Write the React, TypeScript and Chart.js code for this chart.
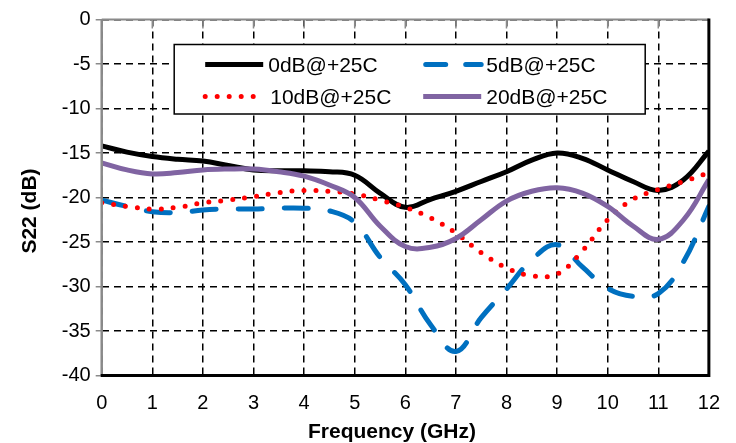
import React, { useEffect, useRef } from "react";
import { Chart, registerables } from "chart.js";

Chart.register(...registerables);

// ---- data ----
const freqGHz = [0, 0.5, 1, 1.5, 2, 2.5, 3, 3.5, 4, 4.5, 5, 5.5, 6, 6.5, 7, 7.5, 8, 8.5, 9, 9.5, 10, 10.5, 11, 11.5, 12];
const s22_0dB = [-14.2, -14.9, -15.4, -15.7, -15.9, -16.4, -16.9, -17.0, -17.0, -17.1, -17.5, -19.5, -21.1, -20.2, -19.3, -18.2, -17.1, -15.8, -15.0, -15.6, -16.9, -18.2, -19.2, -18.0, -14.8];
const s22_5dB = [-20.3, -21.0, -21.6, -21.7, -21.4, -21.3, -21.3, -21.2, -21.2, -21.5, -22.8, -26.7, -29.8, -34.3, -37.3, -33.5, -30.3, -27.0, -25.3, -27.8, -30.2, -31.1, -30.8, -27.2, -21.0];
const s22_10dB = [-20.6, -21.0, -21.3, -21.1, -20.6, -20.3, -19.9, -19.45, -19.2, -19.3, -19.6, -20.3, -21.1, -22.3, -24.0, -26.2, -27.9, -28.8, -28.6, -26.0, -22.5, -20.2, -19.1, -18.2, -17.2];
const s22_20dB = [-16.1, -16.9, -17.35, -17.2, -16.9, -16.8, -16.8, -17.1, -17.6, -18.6, -20.0, -23.2, -25.5, -25.6, -24.6, -22.5, -20.4, -19.3, -18.9, -19.5, -21.0, -23.2, -24.7, -22.5, -18.0];

const seriesLabels = ["0dB@+25C", "5dB@+25C", "10dB@+25C", "20dB@+25C"];
const xTitle = "Frequency (GHz)";
const yTitle = "S22 (dB)";
const xMin = 0, xMax = 12, xStep = 1;
const yMin = -40, yMax = 0, yStep = 5;

const FONT = "'Liberation Sans', Arial, sans-serif";

const styles = [
  { color: "#000000", dash: [] as number[], cap: "butt" as CanvasLineCap },
  { color: "#0070C0", dash: [24, 22], cap: "round" as CanvasLineCap },
  { color: "#FF0000", dash: [0, 12], cap: "round" as CanvasLineCap },
  { color: "#8064A2", dash: [] as number[], cap: "butt" as CanvasLineCap },
];

const framePlugin = {
  id: "frameAndLegend",
  afterDatasetsDraw(chart: any) {
    const { ctx, chartArea: a } = chart;
    const xs = chart.scales.x;
    ctx.save();
    // top border (gray) with small inward ticks
    ctx.strokeStyle = "#8a8a8a";
    ctx.lineWidth = 2;
    ctx.beginPath();
    ctx.moveTo(a.left, a.top);
    ctx.lineTo(a.right, a.top);
    ctx.stroke();
    ctx.lineWidth = 1.5;
    for (let v = xMin + xStep; v < xMax; v += xStep) {
      const px = xs.getPixelForValue(v);
      ctx.beginPath();
      ctx.moveTo(px, a.top);
      ctx.lineTo(px, a.top + 9);
      ctx.stroke();
    }
    // left border gray
    ctx.lineWidth = 2.5;
    ctx.beginPath();
    ctx.moveTo(a.left, a.top);
    ctx.lineTo(a.left, a.bottom);
    ctx.stroke();
    // right + bottom black
    ctx.strokeStyle = "#000";
    ctx.lineWidth = 3;
    ctx.beginPath();
    ctx.moveTo(a.right, a.top - 1);
    ctx.lineTo(a.right, a.bottom);
    ctx.lineTo(a.left - 1, a.bottom);
    ctx.stroke();

    // legend
    const bx = a.left + 72.5, by = a.top + 25, bw = 471, bh = 69.5;
    ctx.fillStyle = "#fff";
    ctx.fillRect(bx, by, bw, bh);
    ctx.strokeStyle = "#000";
    ctx.lineWidth = 1.5;
    ctx.strokeRect(bx, by, bw, bh);
    ctx.font = `21px ${FONT}`;
    ctx.textBaseline = "alphabetic";
    ctx.textAlign = "left";
    [0, 1, 2, 3].forEach((i) => {
      const col = i % 2, row = Math.floor(i / 2);
      const lx = bx + 31 + col * 218;
      const ly = by + 20 + row * 32;
      const st = styles[i];
      ctx.save();
      ctx.strokeStyle = st.color;
      ctx.lineWidth = 5;
      ctx.lineCap = st.cap;
      ctx.setLineDash(i === 1 ? [20, 20] : st.dash);
      ctx.beginPath();
      ctx.moveTo(lx + (i === 1 ? 2.5 : 0), ly);
      ctx.lineTo(lx + 58, ly);
      ctx.stroke();
      ctx.restore();
      ctx.fillStyle = "#000";
      ctx.fillText(seriesLabels[i], lx + 63 + (i === 2 ? 2 : 0), ly + 7.5);
    });

    // axis titles
    ctx.font = `bold 21px ${FONT}`;
    ctx.fillStyle = "#000";
    ctx.textAlign = "center";
    ctx.textBaseline = "middle";
    ctx.fillText(xTitle, 392, 432);
    ctx.save();
    ctx.translate(30, 211);
    ctx.rotate(-Math.PI / 2);
    ctx.fillText(yTitle, 0, 0);
    ctx.restore();
    ctx.restore();
  },
};

export default function App() {
  const ref = useRef<HTMLCanvasElement | null>(null);
  useEffect(() => {
    if (!ref.current) return;
    const series = [s22_0dB, s22_5dB, s22_10dB, s22_20dB];
    const chart = new Chart(ref.current, {
      type: "line",
      data: {
        datasets: series.map((vals, i) => ({
          label: seriesLabels[i],
          data: freqGHz.map((f, k) => ({ x: f, y: vals[k] })),
          borderColor: styles[i].color,
          backgroundColor: styles[i].color,
          borderWidth: 5,
          borderDash: styles[i].dash,
          borderCapStyle: styles[i].cap,
          pointRadius: 0,
          tension: 0.4,
          fill: false,
          order: 3 - i,
        })),
      },
      options: {
        animation: false,
        responsive: false,
        layout: { padding: { left: 0, top: 19.5, right: 27, bottom: 0 } },
        plugins: { legend: { display: false }, tooltip: { enabled: false } },
        scales: {
          x: {
            type: "linear",
            min: xMin,
            max: xMax,
            afterFit: (s: any) => { s.height = 67.5; },
            ticks: { stepSize: xStep, color: "#000", font: { family: FONT, size: 20 }, padding: 16 },
            grid: { color: "#000", lineWidth: 1.5, drawTicks: false },
            border: { display: false, dash: [7, 5] },
          },
          y: {
            min: yMin,
            max: yMax,
            afterFit: (s: any) => { s.width = 101.7; },
            ticks: { stepSize: yStep, color: "#000", font: { family: FONT, size: 20 }, padding: 5 },
            grid: { color: "#000", lineWidth: 1.5, drawTicks: true, tickLength: 6, tickColor: "#8a8a8a", tickWidth: 1.5 },
            border: { display: false, dash: [7, 5] },
          },
        },
      },
      plugins: [framePlugin],
    });
    return () => chart.destroy();
  }, []);
  return (
    <canvas
      ref={ref}
      width={736}
      height={443}
      style={{ position: "absolute", left: 0, top: 0, width: 736, height: 443, background: "#fff" }}
    />
  );
}
